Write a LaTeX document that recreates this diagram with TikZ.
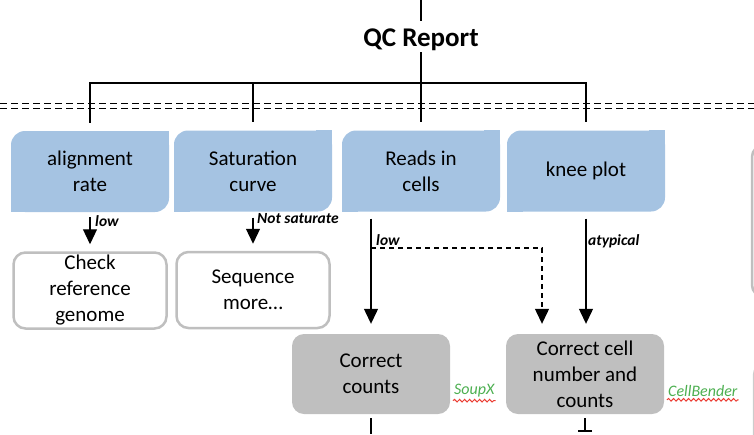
\documentclass[tikz,border=0pt]{standalone}
\usepackage{fontspec}
\setmainfont{Carlito}
\usetikzlibrary{arrows.meta,decorations.pathmorphing}
\definecolor{qcblue}{RGB}{165,195,226}
\definecolor{qcgray}{RGB}{191,191,191}
\definecolor{toolgreen}{RGB}{76,175,80}
\definecolor{spellred}{RGB}{235,60,50}

\begin{document}
\begin{tikzpicture}[x=1pt,y=-1pt,
    link/.style={line width=1.2pt},
    tip/.style={link,-{Triangle[width=14pt,length=15pt]}},
    boxtext/.style={align=center,font=\fontsize{21}{26}\selectfont,inner sep=2pt},
    metric/.style={boxtext,fill=qcblue,rounded corners=14pt,minimum width=158pt,minimum height=81pt},
    todo/.style={boxtext,draw=qcgray,line width=2.5pt,fill=white,rounded corners=12pt,minimum width=153pt,minimum height=76pt},
    fix/.style={boxtext,fill=qcgray,rounded corners=12pt,minimum width=158pt,minimum height=80pt},
    cond/.style={font=\fontsize{15.5}{18}\selectfont\bfseries\itshape,anchor=west,inner sep=1pt},
    tool/.style={font=\fontsize{16}{19}\selectfont\itshape,text=toolgreen,anchor=west,inner sep=1pt},
    squiggle/.style={spellred,line width=1pt,decorate,decoration={snake,amplitude=1.3pt,segment length=5pt}}]
   \useasboundingbox (0,0) rectangle (754,434);

   % title and bus
   \node[font=\fontsize{27}{30}\selectfont\bfseries,inner sep=0pt,text height=18pt,text depth=6pt] (qc) at (421,40) {QC Report};
   \coordinate (feed) at (421,0);
   \coordinate (bus) at (421,83);

   % metrics
   \node[metric] (align) at (90,171.5) {alignment\\rate};
   \node[metric] (satur) at (253,171) {Saturation\\curve};
   \node[metric] (reads) at (421,171) {Reads in\\cells};
   \node[metric] (knee) at (586,171) {knee plot};
   \foreach \m in {align,satur,reads,knee} {
     \fill[qcblue] (\m.north east) rectangle ++(-16,16);
     \fill[qcblue] (\m.south west) rectangle ++(16,-16);
   }

   % actions
   \node[todo] (check) at (90,290.5) {Check\\reference\\genome};
   \node[todo] (seqmore) at (253,290) {Sequence\\more…};
   \node[fix] (counts) at (371,374) {Correct\\counts};
   \node[fix] (cellnum) at (585,374) {Correct cell\\number and\\counts};

   \draw[link,shorten >=7pt] (feed) -- (qc.north);
   \draw[link] (qc.south) -- ([yshift=8pt]reads.north);
   \draw[link] ([yshift=8pt]align.north) |- (bus) -| ([yshift=8pt]knee.north);
   \draw[link] (satur.north |- bus) -- ([yshift=8pt]satur.north);

   \draw[dash pattern=on 7pt off 4pt,line width=1pt] (0,103) -- (754,103);
   \draw[dash pattern=on 7pt off 4pt,line width=1pt] (0,108) -- (754,108);

   \draw[tip,shorten <=5pt,shorten >=7pt] (align.south) -- (check.north);
   \node[cond] (lowA) at (94,221) {low};
   \draw[tip,shorten <=6pt,shorten >=7pt] (satur.south) -- (seqmore.north);
   \node[cond] (notsat) at (256,219) {Not saturate};

   \coordinate (lowsplit) at (371,248);
   \draw[tip,shorten <=7pt,shorten >=10pt] (counts.north |- reads.south) -- (counts.north);
   \draw[link,dash pattern=on 5pt off 4pt,-{Triangle[width=14pt,length=15pt]},shorten >=10pt] (lowsplit) -| ([xshift=-43pt]cellnum.north);
   \node[cond] (lowB) at (375,240) {low};
   \draw[tip,shorten <=7pt,shorten >=10pt] (knee.south) -- (knee.south |- cellnum.north);
   \node[cond] (atyp) at (587,241) {atypical};

   % tools
   \node[tool] (soupx) at (453,391) {SoupX};
   \node[tool] (cellbender) at (667,391) {CellBender};
   \draw[squiggle] ([yshift=-2pt]soupx.south west) -- ([yshift=-2pt]soupx.south east);
   \draw[squiggle] ([yshift=-2pt]cellbender.south west) -- ([yshift=-2pt]cellbender.south east);

   \coordinate (outA) at (371,434);
   \coordinate (outB) at (585,432);
   \draw[link,shorten <=4pt] (counts.south) -- (outA);
   \draw[link,shorten <=4pt,-{Bar[width=14pt,line width=2pt]}] (cellnum.south) -- (outB);

   % boxes cut off at the right
   \begin{scope}
    \clip (0,0) rectangle (754,434);
    \draw[qcgray,line width=2.5pt,rounded corners=12pt] (752,145) rectangle (820,297);
    \draw[qcgray!80,line width=1.5pt,rounded corners=12pt] (753.5,363) rectangle (820,480);
   \end{scope}
\end{tikzpicture}
\end{document}
